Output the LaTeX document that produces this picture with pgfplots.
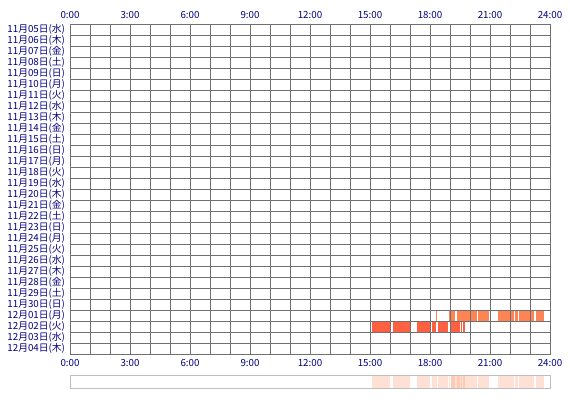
\documentclass[border=0pt]{standalone}
\usepackage{fontspec}
\setmainfont{Noto Sans CJK JP}
\usepackage{pgfplots}
\pgfplotsset{compat=1.18}

\definecolor{gridgray}{RGB}{112,112,112}
\definecolor{labnavy}{RGB}{0,0,128}
\definecolor{dayA}{RGB}{255,132,84}
\definecolor{dayB}{RGB}{255,96,66}
\definecolor{stripgray}{RGB}{190,190,190}

\pgfplotsset{
  timeaxis/.style={
    scale only axis, width=480bp,
    xmin=0, xmax=24,
    major tick length=0pt, minor tick length=0pt,
    tick label style={font=\fontsize{9.8}{10}\selectfont, text=labnavy},
    xtick={0,3,...,24},
    xticklabels={0:00,3:00,6:00,9:00,12:00,15:00,18:00,21:00,24:00},
  },
  seg/.style={draw=none, fill=#1},
  stripseg/.style={draw=none, fill=dayA, fill opacity=0.25},
}

\begin{document}
\begin{tikzpicture}
\path[use as bounding box] (0,0) rectangle (570bp,400bp);

% main grid, rows = days (top row 11/05 at y 29..30)
\begin{axis}[timeaxis, at={(70bp,46bp)}, anchor=south west, height=330bp,
  ymin=0, ymax=30,
  minor xtick={0,...,24}, minor ytick={0,...,30},
  ytick={0.5,1.5,...,29.5},
  yticklabels={12月04日(木),12月03日(水),12月02日(火),12月01日(月),
    11月30日(日),11月29日(土),11月28日(金),11月27日(木),11月26日(水),
    11月25日(火),11月24日(月),11月23日(日),11月22日(土),11月21日(金),
    11月20日(木),11月19日(水),11月18日(火),11月17日(月),11月16日(日),
    11月15日(土),11月14日(金),11月13日(木),11月12日(水),11月11日(火),
    11月10日(月),11月09日(日),11月08日(土),11月07日(金),11月06日(木),
    11月05日(水)},
  xmajorgrids, xminorgrids, yminorgrids,
  grid style={gridgray, line width=1bp},
  minor grid style={gridgray, line width=1bp},
  axis line style={gridgray, line width=1bp},
  yticklabel style={xshift=-1.5bp},
  xticklabel style={yshift=-2bp},
  axis on top,
]
% 12/01
\addplot[seg=dayA] coordinates {(18.29,3)(18.37,3)(18.37,4)(18.29,4)} -- cycle;
\addplot[seg=dayA] coordinates {(18.93,3)(19.00,3)(19.00,4)(18.93,4)} -- cycle;
\addplot[seg=dayA] coordinates {(19.07,3)(19.27,3)(19.27,4)(19.07,4)} -- cycle;
\addplot[seg=dayA] coordinates {(19.33,3)(20.33,3)(20.33,4)(19.33,4)} -- cycle;
\addplot[seg=dayA] coordinates {(20.40,3)(20.95,3)(20.95,4)(20.40,4)} -- cycle;
\addplot[seg=dayA] coordinates {(21.38,3)(22.18,3)(22.18,4)(21.38,4)} -- cycle;
\addplot[seg=dayA] coordinates {(22.25,3)(22.38,3)(22.38,4)(22.25,4)} -- cycle;
\addplot[seg=dayA] coordinates {(22.45,3)(23.22,3)(23.22,4)(22.45,4)} -- cycle;
\addplot[seg=dayA] coordinates {(23.28,3)(23.70,3)(23.70,4)(23.28,4)} -- cycle;
% 12/02
\addplot[seg=dayB] coordinates {(15.10,2)(16.00,2)(16.00,3)(15.10,3)} -- cycle;
\addplot[seg=dayB] coordinates {(16.13,2)(17.00,2)(17.00,3)(16.13,3)} -- cycle;
\addplot[seg=dayB] coordinates {(17.37,2)(18.00,2)(18.00,3)(17.37,3)} -- cycle;
\addplot[seg=dayB] coordinates {(18.10,2)(18.28,2)(18.28,3)(18.10,3)} -- cycle;
\addplot[seg=dayB] coordinates {(18.38,2)(18.90,2)(18.90,3)(18.38,3)} -- cycle;
\addplot[seg=dayB] coordinates {(19.07,2)(19.48,2)(19.48,3)(19.07,3)} -- cycle;
\addplot[seg=dayB] coordinates {(19.53,2)(19.60,2)(19.60,3)(19.53,3)} -- cycle;
\addplot[seg=dayB] coordinates {(19.67,2)(19.73,2)(19.73,3)(19.67,3)} -- cycle;
\end{axis}

% top time labels
\begin{axis}[timeaxis, at={(70bp,46bp)}, anchor=south west, height=330bp,
  ymin=0, ymax=30, ytick=\empty,
  axis line style={draw=none},
  xticklabel pos=upper,
  xticklabel style={yshift=2bp},
]
\end{axis}

% summary strip
\begin{axis}[timeaxis, at={(70bp,12bp)}, anchor=south west, height=12bp,
  ymin=0, ymax=1, xtick=\empty, ytick=\empty,
  axis line style={stripgray, line width=1bp},
]
\addplot[stripseg] coordinates {(18.29,0)(18.37,0)(18.37,1)(18.29,1)} -- cycle;
\addplot[stripseg] coordinates {(18.93,0)(19.00,0)(19.00,1)(18.93,1)} -- cycle;
\addplot[stripseg] coordinates {(19.07,0)(19.27,0)(19.27,1)(19.07,1)} -- cycle;
\addplot[stripseg] coordinates {(19.33,0)(20.33,0)(20.33,1)(19.33,1)} -- cycle;
\addplot[stripseg] coordinates {(20.40,0)(20.95,0)(20.95,1)(20.40,1)} -- cycle;
\addplot[stripseg] coordinates {(21.38,0)(22.18,0)(22.18,1)(21.38,1)} -- cycle;
\addplot[stripseg] coordinates {(22.25,0)(22.38,0)(22.38,1)(22.25,1)} -- cycle;
\addplot[stripseg] coordinates {(22.45,0)(23.22,0)(23.22,1)(22.45,1)} -- cycle;
\addplot[stripseg] coordinates {(23.28,0)(23.70,0)(23.70,1)(23.28,1)} -- cycle;
\addplot[stripseg] coordinates {(15.10,0)(16.00,0)(16.00,1)(15.10,1)} -- cycle;
\addplot[stripseg] coordinates {(16.13,0)(17.00,0)(17.00,1)(16.13,1)} -- cycle;
\addplot[stripseg] coordinates {(17.37,0)(18.00,0)(18.00,1)(17.37,1)} -- cycle;
\addplot[stripseg] coordinates {(18.10,0)(18.28,0)(18.28,1)(18.10,1)} -- cycle;
\addplot[stripseg] coordinates {(18.38,0)(18.90,0)(18.90,1)(18.38,1)} -- cycle;
\addplot[stripseg] coordinates {(19.07,0)(19.48,0)(19.48,1)(19.07,1)} -- cycle;
\addplot[stripseg] coordinates {(19.53,0)(19.60,0)(19.60,1)(19.53,1)} -- cycle;
\addplot[stripseg] coordinates {(19.67,0)(19.73,0)(19.73,1)(19.67,1)} -- cycle;
\end{axis}
\end{tikzpicture}
\end{document}
